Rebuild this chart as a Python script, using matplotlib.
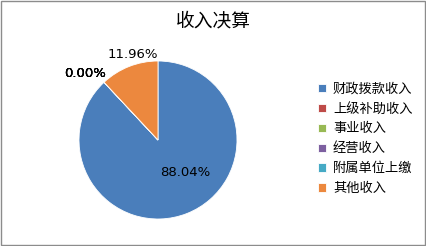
import matplotlib.pyplot as plt
from matplotlib.patches import Rectangle

plt.rcParams['font.family'] = ['Noto Sans CJK SC', 'DejaVu Sans']

categories = ['财政拨款收入', '上级补助收入', '事业收入', '经营收入', '附属单位上缴', '其他收入']
values = [88.04, 0.0, 0.0, 0.0, 0.0, 11.96]
colors = ['#4A7EBB', '#BE4B48', '#98B954', '#7D60A0', '#46AAC5', '#EC883E']

fig = plt.figure(figsize=(4.26, 2.46), dpi=100)
fig.patches.append(Rectangle((0.002, 0.004), 0.995, 0.992, transform=fig.transFigure,
                             fill=False, edgecolor='#8c8c8c', linewidth=1))

ax = fig.add_axes([79 / 426, 27 / 246, 158 / 426, 158 / 246])
wedges, texts = ax.pie(values, colors=colors, startangle=90, counterclock=False,
                       labels=[f'{v:.2f}%' for v in values], labeldistance=1.1,
                       wedgeprops=dict(linewidth=0.6, edgecolor='white'))
ax.set_xlim(-1, 1)
ax.set_ylim(-1, 1)
ax.set_aspect('equal')

# label positions as placed in the original
pos = [(0.35, -0.41), (-0.92, 0.84), (-0.92, 0.84), (-0.92, 0.84), (-0.92, 0.84), (-0.32, 1.08)]
for t, p in zip(texts, pos):
    t.set_position(p)
    t.set_ha('center')
    t.set_va('center')
    t.set_fontsize(9.5)
    t.set_family('DejaVu Sans')
    t.set_clip_on(False)

fig.text(0.50, 0.915, '收入决算', ha='center', va='center', fontsize=13.5)

fig.legend(wedges, categories, loc='upper left', bbox_to_anchor=(0.735, 0.685),
           frameon=False, fontsize=9.5, handlelength=0.6, handleheight=0.6,
           handletextpad=0.5, labelspacing=0.52, borderaxespad=0)

fig.savefig('out.png', dpi=100)
